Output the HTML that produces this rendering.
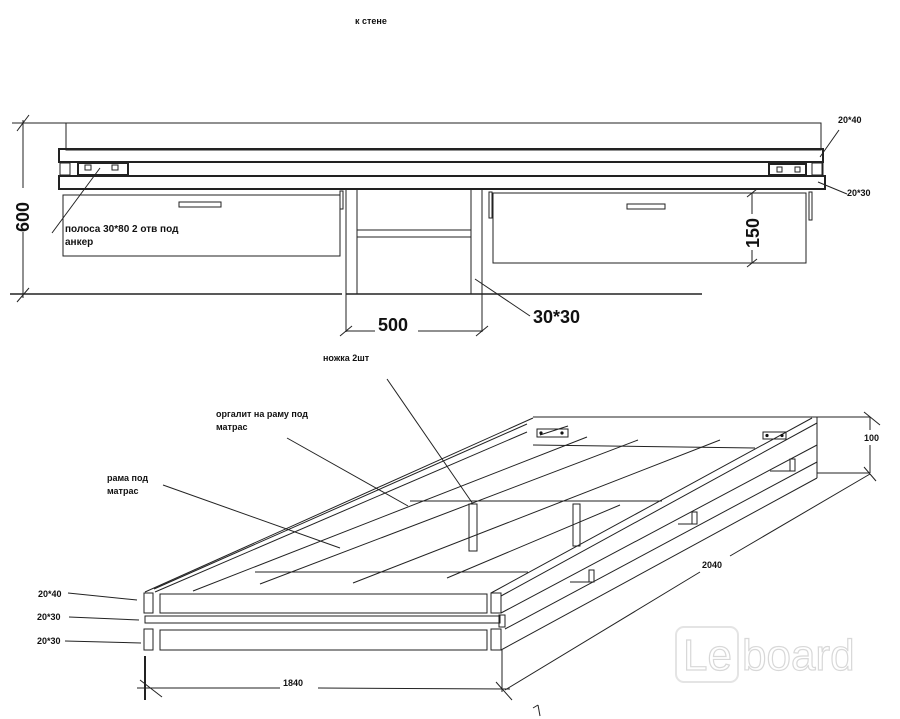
<!DOCTYPE html>
<html><head><meta charset="utf-8"><style>
html,body{margin:0;padding:0;background:#fff;}
svg{display:block}
text{font-family:"Liberation Sans",sans-serif;font-weight:bold;fill:#111}
</style></head><body>
<svg width="900" height="719" viewBox="0 0 900 719" xmlns="http://www.w3.org/2000/svg">
<g fill="none" stroke="#222" stroke-width="1">
<rect x="66" y="123" width="755" height="27"/>
<rect x="59" y="149" width="764" height="13" stroke-width="2"/>
<line x1="60" y1="162" x2="60" y2="176"/><line x1="823" y1="162" x2="823" y2="176"/>
<rect x="59" y="176" width="766" height="13" stroke-width="2"/>
<rect x="60" y="163" width="10" height="12"/>
<rect x="78" y="163" width="50" height="12" stroke-width="2"/>
<rect x="85" y="165" width="6" height="5"/><rect x="112" y="165" width="6" height="5"/>
<rect x="769" y="164" width="37" height="11" stroke-width="2"/>
<rect x="777" y="167" width="5" height="5"/><rect x="795" y="167" width="5" height="5"/>
<rect x="812" y="163" width="10" height="12"/>
<line x1="100" y1="168" x2="52" y2="233"/>
<line x1="820" y1="157" x2="839" y2="130"/>
<line x1="818" y1="182" x2="847" y2="194"/>
<rect x="63" y="195" width="277" height="61"/>
<rect x="179" y="202" width="42" height="5"/>
<rect x="340" y="191" width="3" height="18"/>
<line x1="346" y1="189" x2="346" y2="332"/>
<line x1="357" y1="189" x2="357" y2="294"/>
<line x1="471" y1="189" x2="471" y2="294"/>
<line x1="482" y1="189" x2="482" y2="332"/>
<rect x="357" y="230" width="114" height="7"/>
<line x1="10" y1="294" x2="342" y2="294" stroke-width="1.5"/>
<line x1="346" y1="294" x2="482" y2="294" stroke-width="1.5"/>
<line x1="482" y1="294" x2="702" y2="294" stroke-width="1.5"/>
<line x1="346" y1="331" x2="375" y2="331"/><line x1="418" y1="331" x2="482" y2="331"/>
<line x1="340" y1="336" x2="352" y2="326"/><line x1="476" y1="336" x2="488" y2="326"/>
<line x1="475" y1="279" x2="530" y2="316"/>
<rect x="493" y="193" width="313" height="70"/>
<rect x="627" y="204" width="38" height="5"/>
<rect x="489" y="192" width="3" height="26"/>
<rect x="809" y="192" width="3" height="28"/>
<line x1="752" y1="193" x2="752" y2="214"/><line x1="752" y1="250" x2="752" y2="263"/>
<line x1="747" y1="197" x2="757" y2="189"/><line x1="747" y1="267" x2="757" y2="259"/>
<line x1="23" y1="120" x2="23" y2="188"/><line x1="23" y1="232" x2="23" y2="298"/>
<line x1="12" y1="123" x2="66" y2="123"/>
<line x1="17" y1="131" x2="29" y2="115"/><line x1="17" y1="302" x2="29" y2="288"/>

<rect x="144" y="593" width="9" height="20"/>
<rect x="160" y="594" width="327" height="19"/>
<rect x="491" y="593" width="10" height="20"/>
<rect x="145" y="616" width="355" height="7"/>
<rect x="499" y="615" width="6" height="12"/>
<rect x="144" y="629" width="9" height="21"/>
<rect x="160" y="630" width="327" height="20"/>
<rect x="491" y="629" width="10" height="21"/>
<line x1="145" y1="592" x2="533" y2="418"/>
<line x1="154" y1="589" x2="527" y2="424"/>
<line x1="155" y1="592" x2="527" y2="432"/>
<line x1="193" y1="591" x2="587" y2="437"/>
<line x1="260" y1="584" x2="638" y2="440"/>
<line x1="353" y1="583" x2="720" y2="440"/>
<line x1="447" y1="578" x2="620" y2="505"/>
<line x1="533" y1="417" x2="817" y2="417"/>
<line x1="533" y1="445" x2="755" y2="448"/>
<line x1="410" y1="501" x2="662" y2="501"/>
<line x1="255" y1="572" x2="528" y2="572"/>
<line x1="491" y1="593" x2="812" y2="418"/>
<line x1="501" y1="596" x2="817" y2="423"/>
<line x1="501" y1="613" x2="817" y2="445"/>
<line x1="505" y1="629" x2="817" y2="462"/>
<line x1="501" y1="650" x2="817" y2="478"/>
<line x1="817" y1="417" x2="817" y2="478"/>
<rect x="469" y="504" width="8" height="47"/>
<rect x="573" y="504" width="7" height="42"/>
<rect x="790" y="459" width="5" height="12"/><line x1="770" y1="471" x2="795" y2="471"/>
<rect x="692" y="512" width="5" height="12"/><line x1="678" y1="524" x2="697" y2="524"/>
<rect x="589" y="570" width="5" height="12"/><line x1="570" y1="582" x2="594" y2="582"/>
<rect x="537" y="429" width="31" height="8"/>
<rect x="763" y="432" width="23" height="7"/>
<line x1="540" y1="435" x2="568" y2="426"/>
<line x1="387" y1="379" x2="473" y2="504"/>
<line x1="287" y1="438" x2="408" y2="506"/>
<line x1="163" y1="485" x2="340" y2="548"/>
<line x1="68" y1="593" x2="137" y2="600"/>
<line x1="69" y1="617" x2="139" y2="620"/>
<line x1="65" y1="641" x2="141" y2="643"/>
<line x1="145" y1="656" x2="145" y2="700" stroke-width="2"/>
<line x1="502" y1="650" x2="502" y2="692"/>
<line x1="137" y1="688" x2="280" y2="688"/><line x1="318" y1="688" x2="510" y2="689"/>
<line x1="140" y1="680" x2="162" y2="697"/><line x1="496" y1="682" x2="512" y2="700"/>
<line x1="505" y1="690" x2="700" y2="572"/><line x1="730" y1="556" x2="870" y2="474"/>
<line x1="864" y1="467" x2="876" y2="481"/>
<line x1="817" y1="417" x2="870" y2="417"/><line x1="817" y1="473" x2="870" y2="473"/>
<line x1="870" y1="417" x2="870" y2="430"/><line x1="870" y1="445" x2="870" y2="473"/>
<line x1="864" y1="412" x2="880" y2="425"/>
<line x1="533" y1="708" x2="538" y2="705"/><line x1="538" y1="705" x2="540" y2="716"/>
</g>
<g fill="#111">
<circle cx="541" cy="433" r="1.6"/><circle cx="562" cy="433" r="1.6"/>
<circle cx="767" cy="435.5" r="1.6"/><circle cx="782" cy="435.5" r="1.6"/>
</g>
<text x="355" y="24" font-size="9">к стене</text>
<text x="838" y="123" font-size="9">20*40</text>
<text x="847" y="196" font-size="9">20*30</text>
<text x="65" y="232" font-size="10">полоса 30*80 2 отв под</text>
<text x="65" y="245" font-size="10">анкер</text>
<text x="378" y="331" font-size="18">500</text>
<text x="533" y="323" font-size="18">30*30</text>
<text transform="translate(29,232) rotate(-90)" font-size="18">600</text>
<text transform="translate(759,248) rotate(-90)" font-size="18">150</text>
<text x="323" y="361" font-size="9">ножка 2шт</text>
<text x="216" y="417" font-size="9">оргалит на раму под</text>
<text x="216" y="430" font-size="9">матрас</text>
<text x="107" y="481" font-size="9">рама под</text>
<text x="107" y="494" font-size="9">матрас</text>
<text x="38" y="597" font-size="9">20*40</text>
<text x="37" y="620" font-size="9">20*30</text>
<text x="37" y="644" font-size="9">20*30</text>
<text x="283" y="686" font-size="9">1840</text>
<text x="702" y="568" font-size="9">2040</text>
<text x="864" y="441" font-size="9">100</text>
<g fill="none" stroke="#e4e4e4" stroke-width="2">
<rect x="676" y="627" width="62" height="55" rx="8"/>
</g>
<text x="683" y="670" font-size="44" style="font-weight:normal;fill:#fff;stroke:#d8d8d8;stroke-width:1.2">Le</text>
<text x="742" y="670" font-size="44" style="font-weight:normal;fill:#fff;stroke:#d8d8d8;stroke-width:1.2">board</text>
</svg>
</body></html>
